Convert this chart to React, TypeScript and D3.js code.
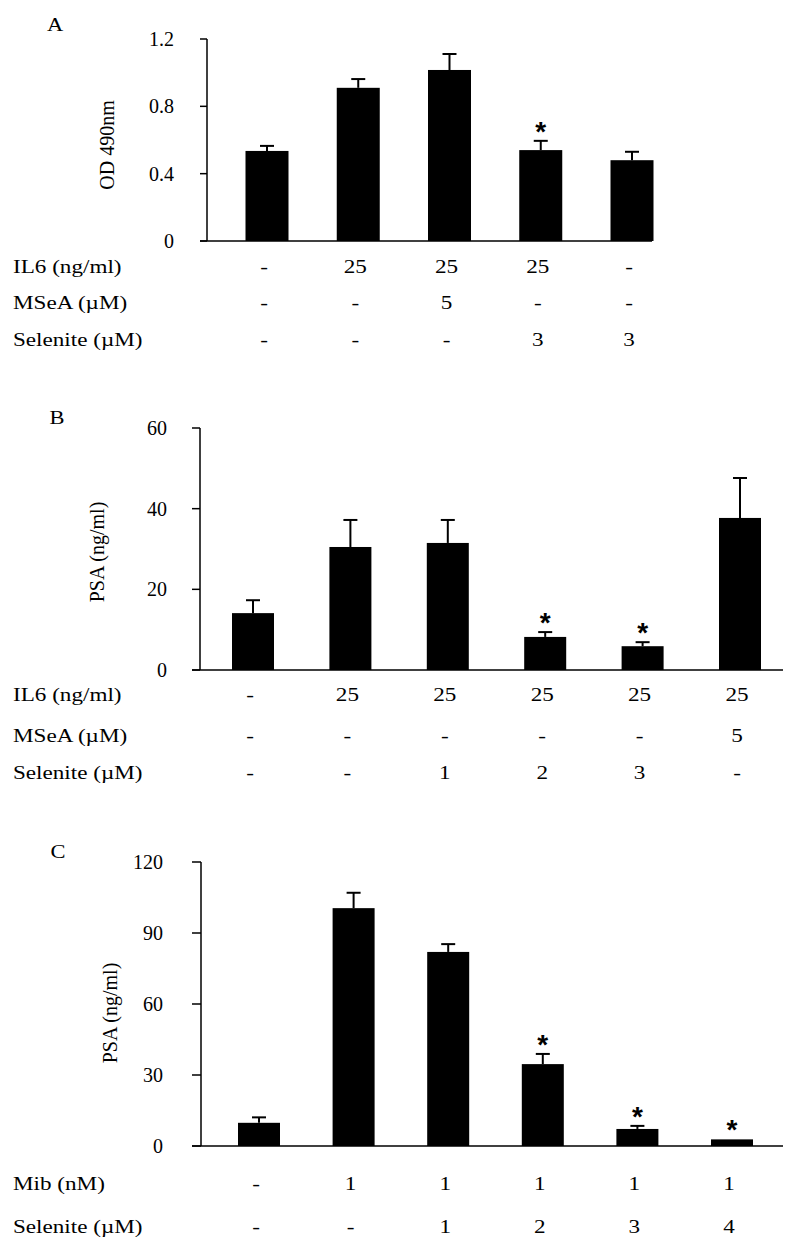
import * as d3 from 'd3';
import { useEffect } from 'react';

// panel A: OD 490nm
const aLabels = ['a1', 'a2', 'a3', 'a4', 'a5'];
const aValues = [0.535, 0.91, 1.016, 0.54, 0.48];
const aErrors = [0.03, 0.052, 0.095, 0.055, 0.05];
const aStars = [false, false, false, true, false];
const aTicks = [0, 0.4, 0.8, 1.2];
const aRowNames = ['IL6 (ng/ml)', 'MSeA (\u00b5M)', 'Selenite (\u00b5M)'];
const aRows = [
  ['-', '25', '25', '25', '-'],
  ['-', '-', '5', '-', '-'],
  ['-', '-', '-', '3', '3'],
];

// panel B: PSA
const bLabels = ['b1', 'b2', 'b3', 'b4', 'b5', 'b6'];
const bValues = [14.1, 30.5, 31.5, 8.2, 5.9, 37.7];
const bErrors = [3.2, 6.7, 5.7, 1.2, 1.0, 9.9];
const bStars = [false, false, false, true, true, false];
const bTicks = [0, 20, 40, 60];
const bRowNames = ['IL6 (ng/ml)', 'MSeA (\u00b5M)', 'Selenite (\u00b5M)'];
const bRows = [
  ['-', '25', '25', '25', '25', '25'],
  ['-', '-', '-', '-', '-', '5'],
  ['-', '-', '1', '2', '3', '-'],
];

// panel C: PSA
const cLabels = ['c1', 'c2', 'c3', 'c4', 'c5', 'c6'];
const cValues = [9.8, 100.5, 82, 34.6, 7.2, 2.8];
const cErrors = [2.3, 6.5, 3.3, 4.3, 1.3, 0];
const cStars = [false, false, false, true, true, true];
const cTicks = [0, 30, 60, 90, 120];
const cRowNames = ['Mib (nM)', 'Selenite (\u00b5M)'];
const cRows = [
  ['-', '1', '1', '1', '1', '1'],
  ['-', '-', '1', '2', '3', '4'],
];

const serif = '"Liberation Serif", "Times New Roman", serif';
const SX = 1.25;

type PanelProps = {
  letter: string;
  letterPos: [number, number];
  title: string;
  titlePos: [number, number];
  labels: string[];
  values: number[];
  errors: number[];
  stars: boolean[];
  ticks: number[];
  tickFmt: (v: number) => string;
  rowNames: string[];
  rows: string[][];
  rowY: number[];
  axisX: number;
  tickX0: number;
  tickLabelX: number;
  yRange: [number, number];
  xEnd: number;
  centers: [number, number];
  barW: number;
};

const Panel = (p: PanelProps) => {
  const y = d3
    .scaleLinear()
    .domain([0, p.ticks[p.ticks.length - 1]])
    .range(p.yRange);
  const x = d3.scalePoint<string>().domain(p.labels).range(p.centers);
  const y0 = y(0);

  return (
    <g>
      <text
        transform={`translate(${p.letterPos[0]},${p.letterPos[1]}) scale(${SX},1)`}
        textAnchor="middle"
        dominantBaseline="central"
        fontFamily={serif}
        fontSize={18}
      >
        {p.letter}
      </text>
      <text
        transform={`translate(${p.titlePos[0]},${p.titlePos[1]}) rotate(-90)`}
        textAnchor="middle"
        dominantBaseline="central"
        fontFamily={serif}
        fontSize={20}
      >
        {p.title}
      </text>

      {/* bars */}
      {p.values.map((v, i) => (
        <rect
          key={'b' + i}
          x={(x(p.labels[i]) ?? 0) - p.barW / 2}
          y={y(v)}
          width={p.barW}
          height={y0 - y(v)}
          fill="#000"
        />
      ))}

      {/* error bars (upper half) */}
      {p.values.map((v, i) =>
        p.errors[i] > 0 ? (
          <g key={'e' + i} stroke="#000" strokeWidth={2}>
            <line
              x1={x(p.labels[i])}
              x2={x(p.labels[i])}
              y1={y(v)}
              y2={y(v + p.errors[i])}
            />
            <line
              x1={(x(p.labels[i]) ?? 0) - 7}
              x2={(x(p.labels[i]) ?? 0) + 7}
              y1={y(v + p.errors[i])}
              y2={y(v + p.errors[i])}
            />
          </g>
        ) : null,
      )}

      {/* significance stars */}
      {p.values.map((v, i) =>
        p.stars[i] ? (
          <text
            key={'s' + i}
            x={x(p.labels[i])}
            y={y(v + p.errors[i])}
            textAnchor="middle"
            fontFamily='"Liberation Sans", Arial, sans-serif'
            fontWeight="bold"
            fontSize={28}
          >
            *
          </text>
        ) : null,
      )}

      {/* axes */}
      <line
        x1={p.axisX}
        x2={p.axisX}
        y1={y(p.ticks[p.ticks.length - 1])}
        y2={y0}
        stroke="#000"
        strokeWidth={1.5}
      />
      <line x1={p.tickX0} x2={p.xEnd} y1={y0} y2={y0} stroke="#000" strokeWidth={1.5} />
      {p.ticks.map((t) => (
        <g key={'t' + t}>
          <line x1={p.tickX0} x2={p.axisX} y1={y(t)} y2={y(t)} stroke="#000" strokeWidth={1.5} />
          <text
            x={p.tickLabelX}
            y={y(t)}
            textAnchor="end"
            dominantBaseline="central"
            fontFamily={serif}
            fontSize={20}
          >
            {p.tickFmt(t)}
          </text>
        </g>
      ))}

      {/* treatment table */}
      {p.rowNames.map((name, r) => (
        <g key={'r' + r}>
          <text
            transform={`translate(13,${p.rowY[r]}) scale(${SX},1)`}
            dominantBaseline="central"
            fontFamily={serif}
            fontSize={18.5}
          >
            {name}
          </text>
          {p.rows[r].map((cell, i) => (
            <text
              key={i}
              transform={`translate(${(x(p.labels[i]) ?? 0) - 3},${p.rowY[r]}) scale(${SX},1)`}
              textAnchor="middle"
              dominantBaseline="central"
              fontFamily={serif}
              fontSize={18.5}
            >
              {cell}
            </text>
          ))}
        </g>
      ))}
    </g>
  );
};

export default function App() {
  useEffect(() => {
    document.body.style.margin = '0';
  }, []);

  return (
    <svg width={800} height={1259} style={{ display: 'block', background: '#fff' }}>
      <Panel
        letter="A"
        letterPos={[55, 25]}
        title="OD 490nm"
        titlePos={[107, 145]}
        labels={aLabels}
        values={aValues}
        errors={aErrors}
        stars={aStars}
        ticks={aTicks}
        tickFmt={(v) => (v === 0 ? '0' : d3.format('.1f')(v))}
        rowNames={aRowNames}
        rows={aRows}
        rowY={[267, 303, 340]}
        axisX={207}
        tickX0={200}
        tickLabelX={174}
        yRange={[241, 39]}
        xEnd={652}
        centers={[267, 632]}
        barW={43}
      />
      <Panel
        letter="B"
        letterPos={[57, 418]}
        title="PSA (ng/ml)"
        titlePos={[97, 552]}
        labels={bLabels}
        values={bValues}
        errors={bErrors}
        stars={bStars}
        ticks={bTicks}
        tickFmt={(v) => String(v)}
        rowNames={bRowNames}
        rows={bRows}
        rowY={[695, 736, 773]}
        axisX={200}
        tickX0={192}
        tickLabelX={167}
        yRange={[670, 428]}
        xEnd={783}
        centers={[253, 740]}
        barW={42}
      />
      <Panel
        letter="C"
        letterPos={[58, 852]}
        title="PSA (ng/ml)"
        titlePos={[110, 1013]}
        labels={cLabels}
        values={cValues}
        errors={cErrors}
        stars={cStars}
        ticks={cTicks}
        tickFmt={(v) => String(v)}
        rowNames={cRowNames}
        rows={cRows}
        rowY={[1184, 1227]}
        axisX={201}
        tickX0={192}
        tickLabelX={163}
        yRange={[1146, 862]}
        xEnd={783}
        centers={[259, 732]}
        barW={42}
      />
    </svg>
  );
}
